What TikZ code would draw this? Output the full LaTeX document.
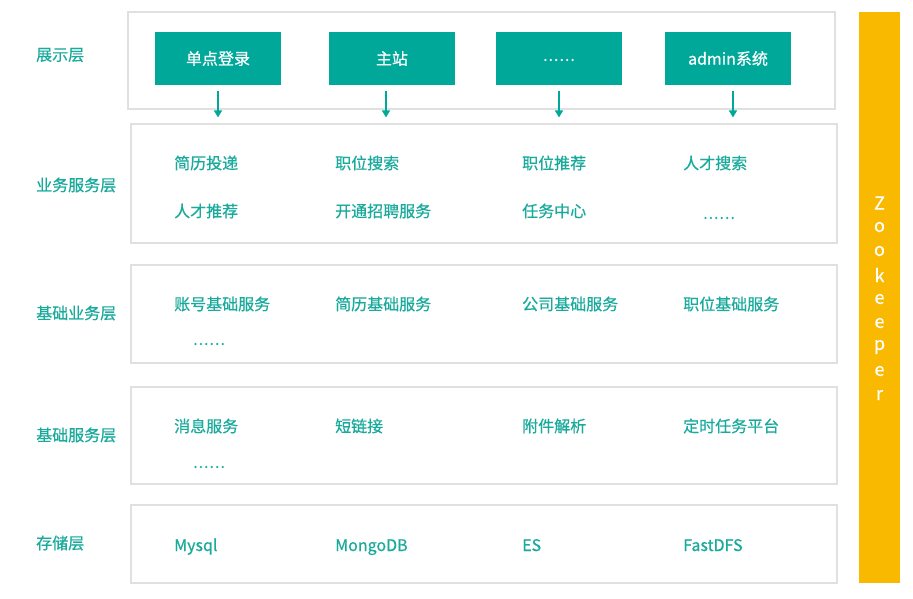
\documentclass[tikz,border=0pt]{standalone}
\usepackage{fontspec}
\setmainfont{Noto Sans CJK SC}[FakeBold=0.6]
\usetikzlibrary{arrows.meta}

\definecolor{zpTeal}{RGB}{0,168,154}
\definecolor{zpText}{RGB}{26,170,156}
\definecolor{zpOrange}{RGB}{249,185,0}
\definecolor{zpGray}{RGB}{224,224,224}

\newcommand\zpdots{.\kern1pt.\kern1pt.\kern1pt.\kern1pt.\kern1pt.}

\tikzset{
  layer/.style={draw=zpGray, line width=1.2pt, minimum width=706pt},
  front/.style={fill=zpTeal, text=white, minimum width=126pt, minimum height=53pt, inner sep=0pt},
  lbl/.style={anchor=west, text=zpText, inner sep=0pt},
  item/.style={anchor=west, text=zpText, inner sep=0pt},
  flow/.style={draw=zpTeal, line width=1.2pt, -{Triangle[length=7pt,width=8pt]}, shorten <=6pt, shorten >=6pt},
}

\begin{document}
\begin{tikzpicture}[x=1pt, y=-1pt, font=\fontsize{16}{19}\selectfont]

\useasboundingbox (0,0) rectangle (913,598);

% layers
\node (show) at (481.5, 60.5) [layer, minimum width=707pt, minimum height=97pt]{};
\node (biz) at (484, 183.5) [layer, minimum height=119pt]{};
\node (bbiz) at (484, 314) [layer, minimum height=98pt]{};
\node (bsvc) at (484, 435.5) [layer, minimum height=97pt]{};
\node (store) at (484, 544) [layer, minimum height=78pt]{};

\node (zk) at (879.5, 297.5) [fill=zpOrange, minimum width=41pt, minimum height=571pt, inner sep=0pt]{};
\foreach \ch [count=\i] in {Z,o,o,k,e,e,p,e,r}
  \node (zk\i) at (879.5, 203+24*\i-24) [text=white, inner sep=0pt, font=\fontsize{18}{20}\selectfont]{\ch};

% layer names
\node (l1) at (36, 55) [lbl]{展示层};
\node (l2) at (36, 185) [lbl]{业务服务层};
\node (l3) at (36, 313) [lbl]{基础业务层};
\node (l4) at (36, 435) [lbl]{基础服务层};
\node (l5) at (36, 543) [lbl]{存储层};

% front ends
\node (sso) at (218, 58.5) [front]{单点登录};
\node (site) at (392, 58.5) [front]{主站};
\node (more) at (559, 58.5) [front]{\raisebox{-5pt}{\zpdots}};
\node (admin) at (728, 58.5) [front]{admin系统};

\draw [flow] (sso.south) -- (sso.south |- biz.north);
\draw [flow] ([xshift=-6pt]site.south) -- ([xshift=-6pt]site.south |- biz.north);
\draw [flow] (more.south) -- (more.south |- biz.north);
\draw [flow] ([xshift=5pt]admin.south) -- ([xshift=5pt]admin.south |- biz.north);

% business services
\node (b1) at (174, 163) [item]{简历投递};
\node (b2) at (335, 163) [item]{职位搜索};
\node (b3) at (522, 163) [item]{职位推荐};
\node (b4) at (683, 163) [item]{人才搜索};
\node (b5) at (174, 211) [item]{人才推荐};
\node (b6) at (335, 211) [item]{开通招聘服务};
\node (b7) at (522, 211) [item]{任务中心};
\node (b8) at (703, 218) [item]{\zpdots};

% base business
\node (c1) at (174, 304) [item]{账号基础服务};
\node (c2) at (335, 304) [item]{简历基础服务};
\node (c3) at (522, 304) [item]{公司基础服务};
\node (c4) at (683, 304) [item]{职位基础服务};
\node (c5) at (193, 344) [item]{\zpdots};

% base services
\node (d1) at (174, 426) [item]{消息服务};
\node (d2) at (335, 426) [item]{短链接};
\node (d3) at (522, 426) [item]{附件解析};
\node (d4) at (683, 426) [item]{定时任务平台};
\node (d5) at (193, 467) [item]{\zpdots};

% storage
\node (s1) at (174, 551) [item, anchor=base west]{Mysql};
\node (s2) at (335, 551) [item, anchor=base west]{MongoDB};
\node (s3) at (522, 551) [item, anchor=base west]{ES};
\node (s4) at (683, 551) [item, anchor=base west]{FastDFS};

\end{tikzpicture}
\end{document}
